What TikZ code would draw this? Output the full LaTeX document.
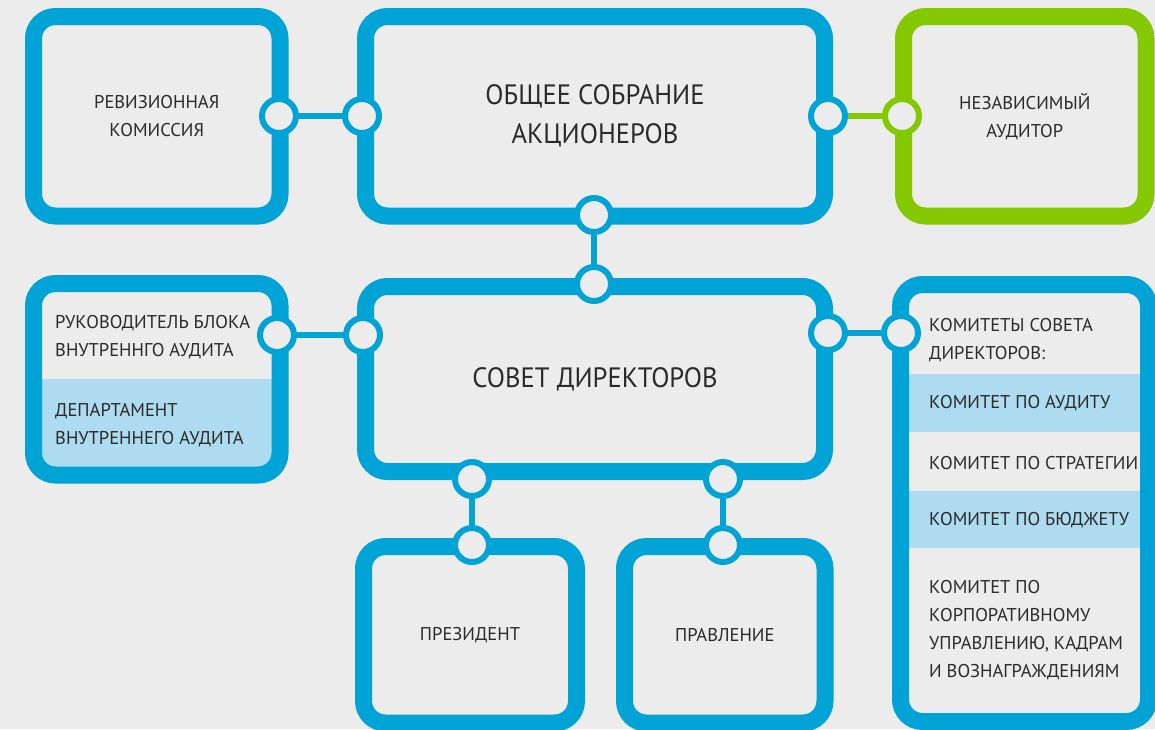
\documentclass[tikz,border=0pt]{standalone}
\usepackage{fontspec}
\setmainfont{PT Sans}
\newfontfamily\headfont{PT Sans}[FakeStretch=0.95]
\usetikzlibrary{positioning}
\definecolor{frameblue}{HTML}{00A3D6}
\definecolor{framegreen}{HTML}{84C800}
\definecolor{bandblue}{HTML}{ADDBF0}
\definecolor{pagegray}{HTML}{ECECEC}
\definecolor{inkgray}{HTML}{2B2B2B}

\begin{document}
\begin{tikzpicture}[x=1pt, y=-1pt,
        unitbox/.style={draw=frameblue, line width=17pt, rounded corners=22pt, inner sep=0pt, text=inkgray, align=center},
        joint/.style={circle, draw=frameblue, line width=6pt, fill=pagegray, minimum size=34pt, inner sep=0pt},
        link/.style={draw=frameblue, line width=6pt},
        smalltext/.style={font=\fontsize{18.5}{28}\selectfont},
        bigtext/.style={font=\headfont\fontsize{28}{39}\selectfont},
        entry/.style={anchor=west, align=left, inner sep=0pt, text=inkgray, smalltext}]

        \fill[pagegray] (0,0) rectangle (1155,729);
        \useasboundingbox (0,0) rectangle (1155,729);

        \begin{scope}
            \clip[rounded corners=22pt] (33.5,283.5) rectangle (280,475);
            \fill[bandblue] (33.5,379) rectangle (280,475);
        \end{scope}
        \fill[bandblue] (900.5,374) rectangle (1148.5,432);
        \fill[bandblue] (900.5,491) rectangle (1148.5,548);

        \node[unitbox, smalltext, minimum width=246.5pt, minimum height=199.5pt] (revision) at (156.75,116.25) {РЕВИЗИОННАЯ\\КОМИССИЯ};
        \node[unitbox, bigtext, minimum width=459pt, minimum height=199.5pt] (meeting) at (595,116.25) {ОБЩЕЕ СОБРАНИЕ\\АКЦИОНЕРОВ};
        \node[unitbox, draw=framegreen, smalltext, minimum width=242.5pt, minimum height=199.5pt] (auditor) at (1024.75,116.25) {НЕЗАВИСИМЫЙ\\АУДИТОР};
        \node[unitbox, minimum width=246.5pt, minimum height=191.5pt] (internal) at (156.75,379.25) {};
        \node[unitbox, bigtext, minimum width=459pt, minimum height=185pt] (board) at (595,379) {СОВЕТ ДИРЕКТОРОВ};
        \node[unitbox, minimum width=248pt, minimum height=437pt] (committees) at (1024.5,503) {};
        \node[unitbox, smalltext, minimum width=213pt, minimum height=176.5pt] (president) at (470,634.75) {ПРЕЗИДЕНТ};
        \node[unitbox, smalltext, minimum width=200.5pt, minimum height=176.5pt] (management) at (724.75,634.75) {ПРАВЛЕНИЕ};

        \node[entry] (head) at (55,337) {РУКОВОДИТЕЛЬ БЛОКА\\ВНУТРЕННГО АУДИТА};
        \node[entry] (dept) at (55,425) {ДЕПАРТАМЕНТ\\ВНУТРЕННЕГО АУДИТА};
        \node[entry] (cttitle) at (929,340.5) {КОМИТЕТЫ СОВЕТА\\ДИРЕКТОРОВ:};
        \node[entry] (ctaudit) at (929,403) {КОМИТЕТ ПО АУДИТУ};
        \node[entry] (ctstrategy) at (929,463) {КОМИТЕТ ПО СТРАТЕГИИ};
        \node[entry] (ctbudget) at (929,520) {КОМИТЕТ ПО БЮДЖЕТУ};
        \node[entry] (ctgovernance) at (929,630) {КОМИТЕТ ПО\\КОРПОРАТИВНОМУ\\УПРАВЛЕНИЮ, КАДРАМ\\И ВОЗНАГРАЖДЕНИЯМ};

        \node[joint] (revisionR) at (279,116) {};
        \node[joint] (meetingL) at (362,116) {};
        \node[joint] (meetingR) at (828,116) {};
        \node[joint, draw=framegreen] (auditorL) at (902,116) {};
        \node[joint] (meetingB) at (594,215) {};
        \node[joint] (boardT) at (594,284) {};
        \node[joint] (internalR) at (277,335) {};
        \node[joint] (boardL) at (363,335) {};
        \node[joint] (boardR) at (828,333) {};
        \node[joint] (committeesL) at (901,333) {};
        \node[joint] (boardB1) at (472,479) {};
        \node[joint] (presidentT) at (472,545) {};
        \node[joint] (boardB2) at (723,479) {};
        \node[joint] (managementT) at (723,545) {};

        \draw[link] (revisionR) -- (meetingL);
        \draw[link, draw=framegreen] (meetingR) -- (auditorL);
        \draw[link] (meetingB) -- (boardT);
        \draw[link] (internalR) -- (boardL);
        \draw[link] (boardR) -- (committeesL);
        \draw[link] (boardB1) -- (presidentT);
        \draw[link] (boardB2) -- (managementT);

    \end{tikzpicture}
\end{document}
